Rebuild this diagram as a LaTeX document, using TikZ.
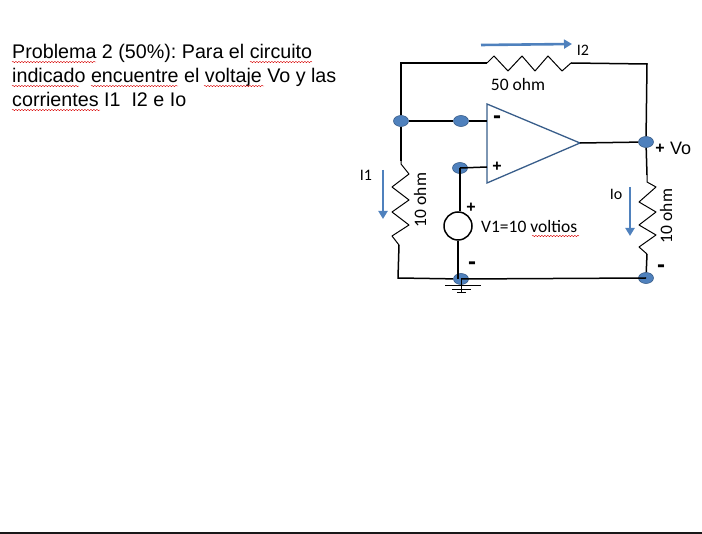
\documentclass[tikz,border=0pt]{standalone}
\usepackage{fontspec}
\setmainfont{Liberation Sans}
\newfontfamily\labelfont{Carlito}
\frenchspacing
\usetikzlibrary{decorations.pathmorphing}
\usetikzlibrary{shapes.geometric}
\usetikzlibrary{arrows.meta}
\definecolor{nodeblue}{HTML}{4F81BD}
\definecolor{edgeblue}{HTML}{385D8A}

\begin{document}
\begin{tikzpicture}[x=1pt,y=-1pt]
        \tikzset{wire/.style={line width=1.5pt,black}};
        \tikzset{coil/.style={line width=1pt,line join=round}};
        \tikzset{term/.style={ellipse,draw=edgeblue,fill=nodeblue,line width=0.6pt,minimum width=15pt,minimum height=11pt,inner sep=0pt}};
        \tikzset{current/.style={line width=2.6pt,nodeblue,-{Triangle[width=9pt,length=8pt]}}};
        \tikzset{spell/.style={red!85!black,line width=0.4pt,decorate,decoration={snake,amplitude=0.7pt,segment length=3pt}}};
        \tikzset{body/.style={anchor=base west,inner sep=0pt,font=\fontsize{19.7}{20}\selectfont}};
        \tikzset{lab/.style={inner sep=0pt,font=\labelfont\fontsize{16}{16}\selectfont}};
        \tikzset{wide/.style={inner sep=0pt,font=\labelfont\fontsize{17.5}{18}\selectfont}};
        \tikzset{sign/.style={inner sep=0pt,font=\bfseries\fontsize{16}{16}\selectfont}};
        \tikzset{dashsign/.style={inner sep=0pt,font=\bfseries\fontsize{24}{24}\selectfont}};
        \useasboundingbox (0,0) rectangle (702,534);

        % statement
        \node[body] (line1) at (12,59) {Problema 2 (50\%): Para el circuito};
        \node[body] (line2) at (12,83) {indicado encuentre el voltaje Vo y las};
        \node[body] (line3) at (12,107) {corrientes I1\ \ I2 e Io};
        \draw[spell] (12,62) -- (96,62);
        \draw[spell] (250,62) -- (312,62);
        \draw[spell] (12,86) -- (79,86);
        \draw[spell] (91,86) -- (178,86);
        \draw[spell] (204,86) -- (264,86);
        \draw[spell] (12,110) -- (100,110);

        % amplifier
        \coordinate (ampa) at (487,104);
        \coordinate (ampb) at (487,183);
        \coordinate (ampout) at (580,143);
        \coordinate (ampm) at (487,121);
        \coordinate (ampp) at (487,167);
        \draw[line width=1.3pt,edgeblue,line join=miter] (ampa) -- (ampout) -- (ampb) -- cycle;
        \node[dashsign] (minus1) at (497,120) {-};
        \node[sign] (plus1) at (497,167) {+};

        % terminals
        \node[term] (left) at (401,121) {};
        \node[term] (inm) at (461,121) {};
        \node[term] (inp) at (460,168) {};
        \node[term] (out) at (646,142) {};
        \node[term] (gnd) at (461,279) {};
        \node[term] (br) at (646,278) {};
        \coordinate (tl) at (401,63);
        \coordinate (tr) at (647,64);
        \coordinate (bl) at (398,278);

        % top resistor
        \coordinate (rta) at (487,63);
        \coordinate (rtb) at (571,63);
        \draw[wire] (left) -- (tl) -- (rta);
        \draw[coil] (rta) -- (494,56) -- (508,71) -- (522,56) -- (535,71) -- (548,56) -- (562,71) -- (rtb);
        \draw[wire] (rtb) -- (tr) -- (out);
        \node[wide] (r50) at (518,84) {50 ohm};
        \node[lab] (i2) at (583,50) {I2};
        \coordinate (i2a) at (481,45);
        \coordinate (i2b) at (572,44);
        \draw[current] (i2a) -- (i2b);

        % left resistor
        \coordinate (rla) at (401,161);
        \coordinate (rlb) at (399,245);
        \draw[wire] (left) -- (inm);
        \draw[wire] (inm) -- (ampm);
        \draw[wire] (left) -- (rla);
        \draw[coil] (rla) -- (401,164) -- (409,174) -- (392,187) -- (409,200) -- (392,212) -- (409,225) -- (392,236) -- (rlb);
        \draw[wire] (rlb) -- (bl) -- (gnd);
        \node[wide,rotate=90] (r10l) at (420,200) {10 ohm};
        \node[lab] (i1) at (366,175) {I1};
        \coordinate (i1a) at (383,170);
        \coordinate (i1b) at (383,219);
        \draw[current] (i1a) -- (i1b);

        % source
        \node[circle,draw,line width=1.5pt,minimum size=28pt,inner sep=0pt] (src) at (458,226) {};
        \draw[wire] (inp.center) -- (ampp);
        \draw[wire] (inp.center) -- (inp.center |- src.north);
        \draw[wire] (src.south) -- (src.south |- gnd.center);
        \node[sign] (plus2) at (471,208) {+};
        \node[dashsign] (minus2) at (472,266) {-};
        \node[wide,anchor=base west] (v1) at (481,233) {V1=10 voltios};
        \draw[spell] (532,236) -- (579,236);

        % ground
        \coordinate (ga) at (445,286);
        \coordinate (gb) at (481,286);
        \coordinate (gc) at (452,290);
        \coordinate (gd) at (471,290);
        \coordinate (ge) at (457,293);
        \coordinate (gf) at (466,293);
        \draw[line width=1pt] (ga) -- (gb);
        \draw[line width=1pt] (gc) -- (gd);
        \draw[line width=1pt] (ge) -- (gf);
        \draw[wire] (gnd.center) -- (br.center);
        \draw[line width=1pt] (gnd.center) -- (461,293);

        % output
        \coordinate (rra) at (647,175);
        \coordinate (rrb) at (647,254);
        \draw[wire] (ampout) -- (out);
        \draw[wire] (out) -- (rra);
        \draw[coil] (rra) -- (647,182) -- (656,187) -- (639,202) -- (656,212) -- (639,225) -- (656,235) -- (639,247) -- (rrb);
        \draw[wire] (rrb) -- (br);
        \node[wide,rotate=90] (r10r) at (666,216) {10 ohm};
        \node[lab] (io) at (616,194) {Io};
        \coordinate (ioa) at (630,187);
        \coordinate (iob) at (630,236);
        \draw[current] (ioa) -- (iob);
        \node[sign] (plus3) at (660,149) {+};
        \node[anchor=base west,inner sep=0pt,font=\fontsize{18}{18}\selectfont] (vo) at (670,155) {Vo};
        \node[dashsign] (minus3) at (661,269) {-};

        % page edge
        \coordinate (pa) at (0,533);
        \coordinate (pb) at (702,533);
        \draw[line width=1.8pt,black!90] (pa) -- (pb);
    \end{tikzpicture}
\end{document}
